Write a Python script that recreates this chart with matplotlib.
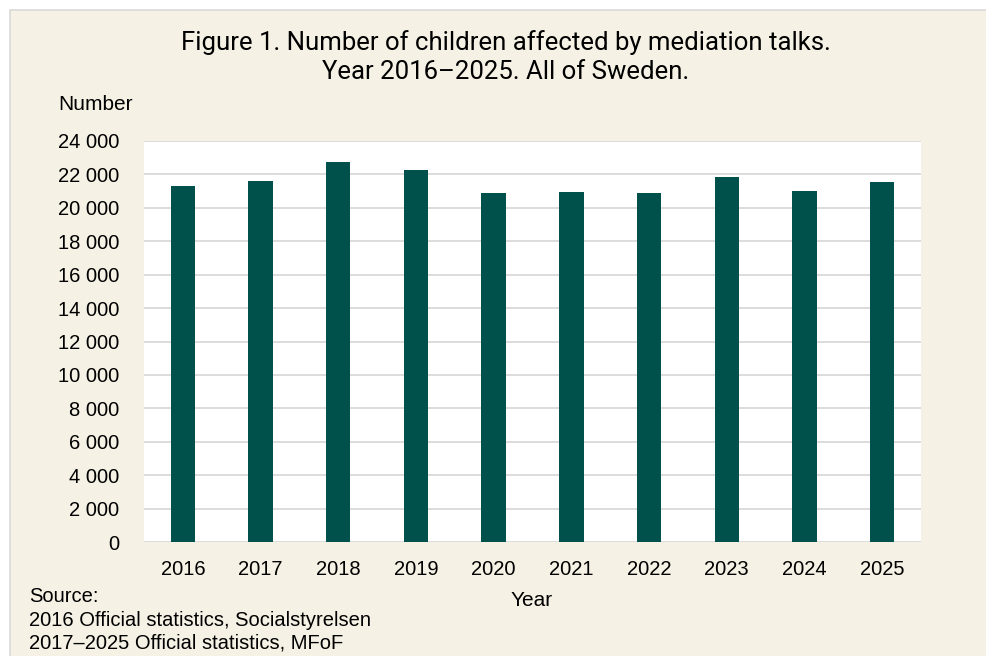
import matplotlib.pyplot as plt
from matplotlib.patches import Rectangle
from matplotlib.ticker import FuncFormatter, MultipleLocator

# data
years = ['2016', '2017', '2018', '2019', '2020', '2021', '2022', '2023', '2024', '2025']
children = [21330, 21610, 22740, 22260, 20870, 20930, 20910, 21860, 21030, 21550]

title_text = 'Figure 1. Number of children affected by mediation talks.\nYear 2016\u20132025. All of Sweden.'
source_text = 'Source:\n2016 Official statistics, Socialstyrelsen\n2017\u20132025 Official statistics, MFoF'

bar_color = '#00504B'
cream = '#F5F1E4'
grid_color = '#D9D9D9'

plt.rcParams['font.family'] = ['Liberation Sans', 'DejaVu Sans']

fig = plt.figure(figsize=(9.87, 6.56), dpi=100, facecolor='white')
W, H = 987, 656

# cream panel with grey border on top and left
fig.patches.append(Rectangle((10 / W, -0.05), 1.1, (646 / H) + 0.05,
                             transform=fig.transFigure, facecolor=cream,
                             edgecolor=grid_color, linewidth=1.2, zorder=-5))

ax = fig.add_axes([144 / W, 1 - 542 / H, (921 - 144) / W, (542 - 141) / H], zorder=2)
ax.set_facecolor('white')
ax.bar(range(len(years)), children, width=0.315, color=bar_color, zorder=3)

ax.set_xlim(-0.5, len(years) - 0.5)
ax.set_ylim(0, 24000)
ax.yaxis.set_major_locator(MultipleLocator(2000))
ax.yaxis.set_major_formatter(FuncFormatter(lambda v, p: f'{int(v):,}'.replace(',', ' ')))
ax.set_xticks(range(len(years)))
ax.set_xticklabels(years)
ax.grid(axis='y', color=grid_color, linewidth=1.3, zorder=0)
ax.set_axisbelow(True)
for s in ax.spines.values():
    s.set_visible(False)
ax.tick_params(axis='both', length=0, labelsize=14.5, colors='black')
ax.tick_params(axis='y', pad=18)
ax.tick_params(axis='x', pad=13)

fig.text(506 / W, 1 - 57 / H, title_text, ha='center', va='center', fontsize=18.5,
         family=['Roboto', 'Liberation Sans'], linespacing=1.3)
fig.text(95 / W, 1 - 105 / H, 'Number', ha='center', va='center', fontsize=15)
fig.text(532 / W, 1 - 600 / H, 'Year', ha='center', va='center', fontsize=15)
fig.text(29 / W, 1 - 620 / H, source_text, ha='left', va='center', fontsize=14.5,
         linespacing=1.27)

fig.savefig('out.png', dpi=100, facecolor=fig.get_facecolor())
